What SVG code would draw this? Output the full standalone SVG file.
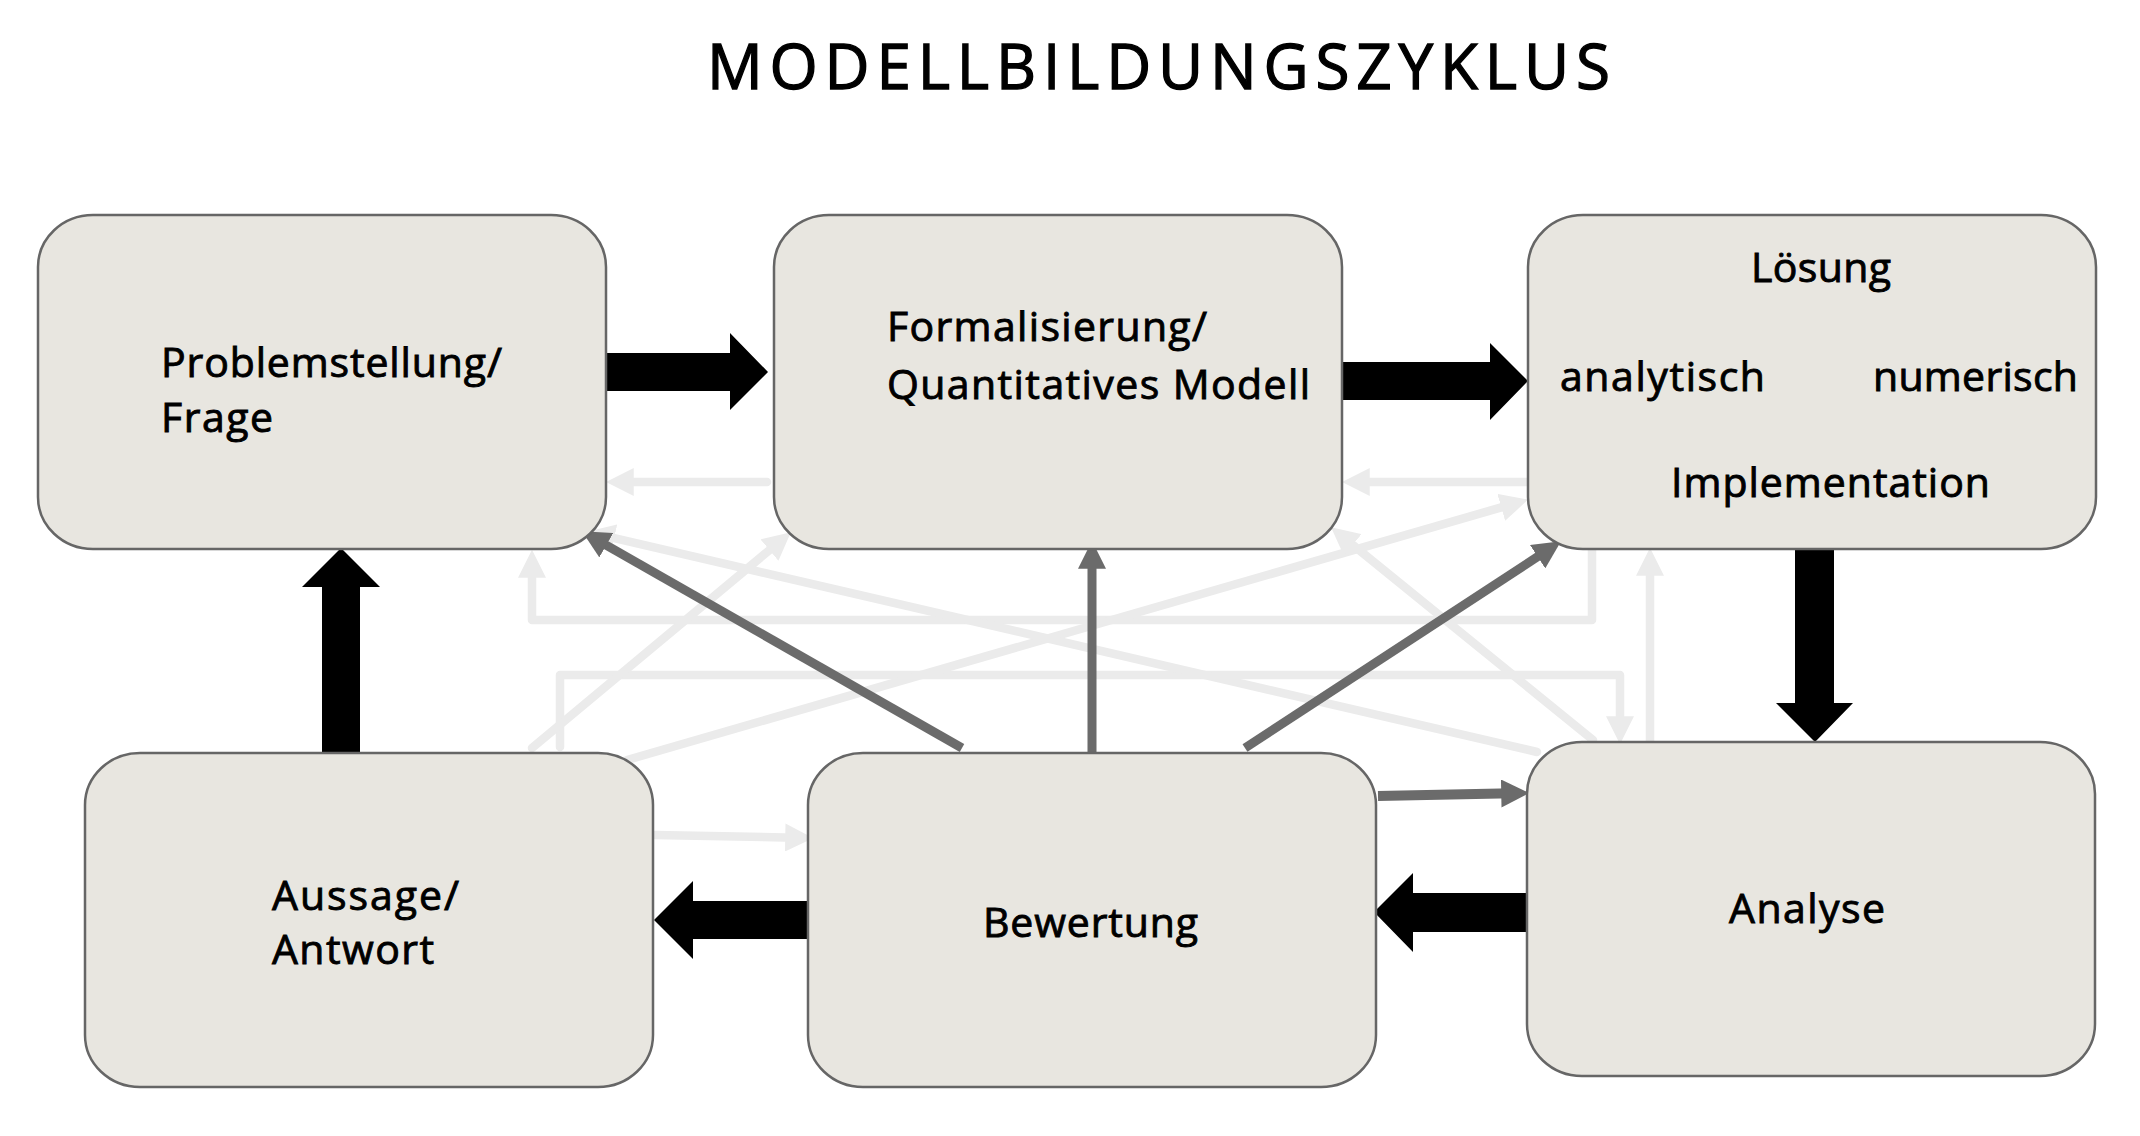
<svg xmlns="http://www.w3.org/2000/svg" width="2140" height="1136" viewBox="0 0 2140 1136">
<style>
.box{fill:#e8e6e0;stroke:#666;stroke-width:2.5}
.t{font-family:"Open Sans","Liberation Sans",sans-serif;font-size:41px;fill:#000;stroke:#000;stroke-width:0.9}
.title{font-family:"Open Sans","Liberation Sans",sans-serif;font-size:62px;fill:#000;stroke:#000;stroke-width:1.3}
.lg{fill:none;stroke:#ebebeb;stroke-width:8.5;stroke-linecap:round;stroke-linejoin:round}
.dk{fill:none;stroke:#6b6b6b;stroke-width:9}
.blk{fill:#000}
</style>
<defs>
<marker id="hl" markerUnits="userSpaceOnUse" markerWidth="28" markerHeight="28" refX="10" refY="13" orient="auto" viewBox="0 0 26 26"><path d="M0,0 L26,13 L0,26 z" fill="#ebebeb"/></marker>
<marker id="hd" markerUnits="userSpaceOnUse" markerWidth="28" markerHeight="28" refX="10" refY="13" orient="auto" viewBox="0 0 26 26"><path d="M0,0 L26,13 L0,26 z" fill="#6b6b6b"/></marker>
</defs>
<rect width="2140" height="1136" fill="#fff"/>
<text class="title" x="707" y="89" textLength="903" lengthAdjust="spacing">MODELLBILDUNGSZYKLUS</text>

<g id="connectors">
<g id="light">
<path class="lg" marker-end="url(#hl)" d="M767,482 L623,482"/>
<path class="lg" marker-end="url(#hl)" d="M1528,482 L1359,482"/>
<path class="lg" marker-end="url(#hl)" d="M1592,550 L1592,620 L532,620 L532,567"/>
<path class="lg" marker-end="url(#hl)" d="M560,747 L560,675 L1620,675 L1620,727"/>
<path class="lg" marker-end="url(#hl)" d="M1650,742 L1650,565"/>
<path class="lg" marker-end="url(#hl)" d="M655,835 L796,837.7"/>
<path class="lg" marker-end="url(#hl)" d="M532,748 L777.7,543.2"/>
<path class="lg" marker-end="url(#hl)" d="M627,760 L1511.6,504.4"/>
<path class="lg" marker-end="url(#hl)" d="M1537,752 L603.6,535.6"/>
<path class="lg" marker-end="url(#hl)" d="M1593,740 L1344.4,538.1"/>
</g>
<g id="dark">
<path class="dk" marker-end="url(#hd)" d="M962,748 L596.9,539.9"/>
<path class="dk" marker-end="url(#hd)" d="M1092,753 L1092,558"/>
<path class="dk" marker-end="url(#hd)" d="M1245,748 L1546.6,550.8"/>
<path class="dk" style="stroke-width:10" marker-end="url(#hd)" d="M1378,796 L1512,793.3"/>
</g>
<g id="block">
<polygon class="blk" points="606,353 730,353 730,333 768,372 730,410 730,391 606,391"/>
<polygon class="blk" points="1342,362 1490,362 1490,343 1528,381 1490,420 1490,400 1342,400"/>
<polygon class="blk" points="1795,547 1834,547 1834,703 1853,703 1815,742 1776,703 1795,703"/>
<polygon class="blk" points="1527,893 1413,893 1413,873 1374,912 1413,952 1413,932 1527,932"/>
<polygon class="blk" points="808,901 693,901 693,881 654,920 693,959 693,939 808,939"/>
<polygon class="blk" points="322,753 322,587 302,587 341,548 380,587 360,587 360,753"/>
</g>
</g>

<g id="problemstellung">
<rect class="box" x="38" y="215" width="568" height="334" rx="55" ry="52"/>
<text class="t" x="161" y="377" textLength="341" lengthAdjust="spacing">Problemstellung/</text>
<text class="t" x="161" y="432" textLength="112" lengthAdjust="spacing">Frage</text>
</g>
<g id="formalisierung">
<rect class="box" x="774" y="215" width="568" height="334" rx="55" ry="52"/>
<text class="t" x="887" y="341" textLength="320" lengthAdjust="spacing">Formalisierung/</text>
<text class="t" x="887" y="399" textLength="423" lengthAdjust="spacing">Quantitatives Modell</text>
</g>
<g id="loesung">
<rect class="box" x="1528" y="215" width="568" height="334" rx="55" ry="52"/>
<text class="t" x="1751" y="282" textLength="140" lengthAdjust="spacing">Lösung</text>
<text class="t" x="1560" y="391" textLength="205" lengthAdjust="spacing">analytisch</text>
<text class="t" x="1873" y="391" textLength="205" lengthAdjust="spacing">numerisch</text>
<text class="t" x="1671" y="497" textLength="319" lengthAdjust="spacing">Implementation</text>
</g>
<g id="aussage">
<rect class="box" x="85" y="753" width="568" height="334" rx="55" ry="52"/>
<text class="t" x="272" y="910" textLength="187" lengthAdjust="spacing">Aussage/</text>
<text class="t" x="272" y="964" textLength="162" lengthAdjust="spacing">Antwort</text>
</g>
<g id="bewertung">
<rect class="box" x="808" y="753" width="568" height="334" rx="55" ry="52"/>
<text class="t" x="983" y="937" textLength="215" lengthAdjust="spacing">Bewertung</text>
</g>
<g id="analyse">
<rect class="box" x="1527" y="742" width="568" height="334" rx="55" ry="52"/>
<text class="t" x="1729" y="923" textLength="156" lengthAdjust="spacing">Analyse</text>
</g>
</svg>
